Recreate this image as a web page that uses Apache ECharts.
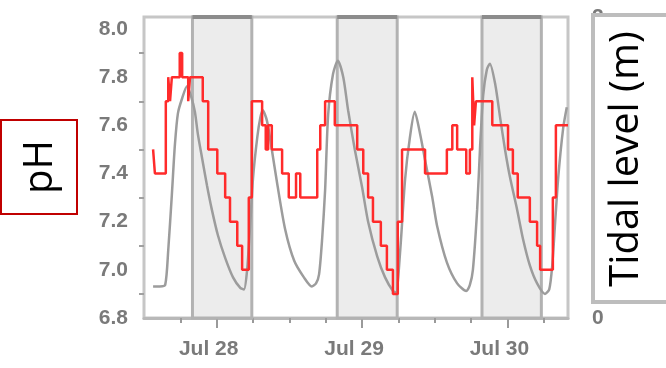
<!DOCTYPE html>
<html>
<head>
<meta charset="utf-8">
<script src="https://cdn.jsdelivr.net/npm/echarts@6/dist/echarts.min.js"></script>
<style>
html,body{margin:0;padding:0;background:#fff;}
#chart{width:666px;height:368px;}
</style>
</head>
<body>
<div id="chart"></div>
<script>
// Time in hours relative to Jul 28 00:00
var tideHours = [-10.5,-9.4,-8.5,-8.0,-7.4,-6.9,-6.4,-5.7,-4.9,-4.2,-3.6,-3.1,-2.4,-1.6,-0.8,0.2,1.4,2.7,3.9,4.5,5.0,5.5,6.0,6.7,7.2,7.6,8.3,9.1,10.0,11.3,12.8,14.4,15.7,16.4,16.9,17.4,17.9,18.4,19.2,20.0,20.9,21.7,22.8,24.0,25.0,26.5,27.8,29.1,29.6,30.3,31.1,31.9,32.7,33.6,34.4,35.6,36.4,38.0,39.7,41.2,41.8,42.3,43.0,43.5,44.0,44.6,45.1,46.0,46.8,47.6,48.4,49.6,50.6,51.7,52.9,54.2,54.9,55.4,55.9,56.4,57.2,57.8];
var tideLevel = [0.21,0.21,0.22,0.45,0.82,1.15,1.36,1.46,1.54,1.47,1.37,1.22,1.06,0.88,0.72,0.55,0.40,0.27,0.20,0.19,0.31,0.60,0.93,1.20,1.33,1.38,1.31,1.12,0.89,0.59,0.38,0.27,0.21,0.23,0.29,0.52,0.85,1.35,1.62,1.71,1.60,1.38,1.12,0.87,0.64,0.41,0.27,0.18,0.17,0.45,0.92,1.20,1.37,1.22,1.05,0.80,0.61,0.37,0.23,0.18,0.22,0.32,0.72,1.15,1.48,1.65,1.69,1.55,1.33,1.12,0.94,0.72,0.52,0.35,0.23,0.16,0.19,0.35,0.65,0.94,1.26,1.40];

var phHours = [-10.5,-10.2,-8.4,-8.0,-7.7,-7.4,-6.1,-5.7,-4.7,-4.4,-2.3,-1.4,0.1,1.4,2.2,3.4,4.2,5.3,5.8,7.5,8.1,8.5,9.1,10.8,11.9,13.1,13.8,16.6,17.1,17.9,19.5,23.2,24.2,25.0,25.8,27.1,28.1,29.1,29.9,30.6,34.4,38.0,38.9,39.7,41.2,41.8,42.2,42.5,42.8,45.5,48.1,48.9,49.7,51.7,52.9,53.4,55.5,56.0,58.0];
var phValue = [7.5,7.4,7.7,7.8,7.7,7.8,7.9,7.8,7.7,7.8,7.7,7.5,7.4,7.3,7.2,7.1,7.0,7.3,7.7,7.6,7.5,7.6,7.5,7.4,7.3,7.4,7.3,7.5,7.6,7.7,7.6,7.5,7.4,7.3,7.2,7.1,7.0,6.9,7.2,7.5,7.4,7.5,7.6,7.5,7.4,7.5,7.8,7.6,7.7,7.6,7.5,7.4,7.3,7.2,7.1,7.0,7.3,7.6,7.6];

var nightStart = [-4.0, 19.9, 43.8];
var nightEnd = [5.8, 29.8, 53.6];

var dayHours = [0, 24, 48];
var dayLabels = ['Jul 28', 'Jul 29', 'Jul 30'];
var hourTicks = [-6, 6, 12, 18, 30, 36, 42, 54];

var phLabelValues = [6.8, 7.0, 7.2, 7.4, 7.6, 7.8, 8.0];
var phMinorTicks = [6.9, 7.1, 7.3, 7.5, 7.7, 7.9];
var tideTickValues = [0, 0.5, 1, 1.5, 2];
var tideLabelValues = [0, 1, 2];

var tideData = tideHours.map(function (h, i) { return [h, tideLevel[i]]; });
var phData = phHours.map(function (h, i) { return [h, phValue[i]]; });
var nightAreas = nightStart.map(function (s, i) { return [{xAxis: s}, {xAxis: nightEnd[i]}]; });
var nightTops = nightStart.map(function (s, i) { return [{coord: [s, 2]}, {coord: [nightEnd[i], 2]}]; });

var labelFont = {color: '#7a7a7a', fontSize: 21, fontWeight: 'bold', letterSpacing: 1, fontFamily: '"Liberation Sans", Arial, sans-serif'};

var chart = echarts.init(document.getElementById('chart'));
chart.setOption({
  animation: false,
  backgroundColor: '#ffffff',
  grid: {left: 144, right: 98, top: 17, bottom: 50, show: true, borderColor: '#c6c6c6', borderWidth: 3, backgroundColor: 'transparent'},
  xAxis: [
    {
      type: 'value', min: -12, max: 58, position: 'bottom',
      axisLine: {lineStyle: {color: '#b8b8b8', width: 3}},
      axisTick: {customValues: hourTicks, length: 5, lineStyle: {color: '#9a9a9a', width: 2}},
      axisLabel: {show: false},
      splitLine: {show: false}
    },
    {
      type: 'value', min: -12, max: 58, position: 'bottom',
      axisLine: {show: false},
      axisTick: {customValues: dayHours, length: 10, lineStyle: {color: '#9a9a9a', width: 2}},
      axisLabel: Object.assign({
        customValues: dayHours, margin: 21, padding: [0, 16, 0, 0],
        formatter: function (v) { var i = dayHours.indexOf(v); return i >= 0 ? dayLabels[i] : ''; }
      }, labelFont),
      splitLine: {show: false}
    }
  ],
  yAxis: [
    {
      type: 'value', min: 6.8, max: 8.05, position: 'left',
      axisLine: {show: true, lineStyle: {color: '#a8a8a8', width: 3}},
      axisTick: {customValues: phLabelValues, length: 9, lineStyle: {color: '#a0a0a0', width: 2}},
      axisLabel: Object.assign({customValues: phLabelValues, margin: 16, formatter: function (v) { return v.toFixed(1); }}, labelFont),
      splitLine: {show: false}
    },
    {
      type: 'value', min: 0, max: 2, position: 'right',
      axisLine: {show: true, lineStyle: {color: '#a8a8a8', width: 3}},
      axisTick: {customValues: tideTickValues, length: 7, lineStyle: {color: '#a0a0a0', width: 2}},
      axisLabel: Object.assign({customValues: tideLabelValues, margin: 24, formatter: function (v) { return String(v); }}, labelFont),
      splitLine: {show: false}
    },
    {
      type: 'value', min: 6.8, max: 8.05, position: 'left',
      axisLine: {show: false},
      axisTick: {customValues: phMinorTicks, length: 5, lineStyle: {color: '#a0a0a0', width: 2}},
      axisLabel: {show: false},
      splitLine: {show: false}
    }
  ],
  series: [
    {
      type: 'line', xAxisIndex: 0, yAxisIndex: 1, data: tideData,
      symbol: 'none', smooth: 0.25,
      lineStyle: {color: '#9c9c9c', width: 2.5},
      z: 2,
      markArea: {silent: true, itemStyle: {color: '#ececec', borderColor: '#b2b2b2', borderWidth: 3}, data: nightAreas},
      markLine: {silent: true, symbol: 'none', label: {show: false}, lineStyle: {color: '#8c8c8c', width: 4, type: 'solid'}, data: nightTops}
    },
    {
      type: 'line', xAxisIndex: 0, yAxisIndex: 0, data: phData,
      symbol: 'none', step: 'end',
      lineStyle: {color: '#ff2b2b', width: 2.5},
      z: 3
    }
  ],
  graphic: [
    {type: 'rect', z: 100, shape: {x: 1, y: 120, width: 76, height: 94}, style: {fill: '#ffffff', stroke: '#c00000', lineWidth: 2}},
    {type: 'text', z: 101, x: 41, y: 167, rotation: Math.PI / 2,
     style: {text: 'pH', font: '40px "Open Sans", sans-serif', fill: '#000000', align: 'center', verticalAlign: 'middle'}},
    {type: 'rect', z: 100, shape: {x: 593, y: 15, width: 90, height: 287}, style: {fill: '#ffffff', stroke: '#bdbdbd', lineWidth: 4}},
    {type: 'text', z: 101, x: 627, y: 159, rotation: Math.PI / 2,
     style: {text: 'Tidal level (m)', font: '40px "Open Sans", sans-serif', fill: '#000000', align: 'center', verticalAlign: 'middle'}}
  ]
});
</script>
</body>
</html>
